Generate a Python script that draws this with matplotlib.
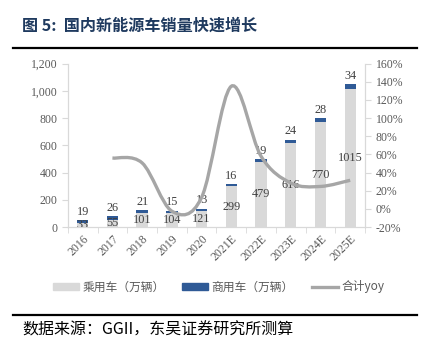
import matplotlib
matplotlib.use("Agg")
import matplotlib.pyplot as plt
import numpy as np
from matplotlib.path import Path
from matplotlib.patches import PathPatch, Patch
from matplotlib.lines import Line2D
from matplotlib.ticker import FuncFormatter, MultipleLocator

years = ["2016", "2017", "2018", "2019", "2020", "2021E", "2022E", "2023E", "2024E", "2025E"]
passenger = [33, 55, 101, 104, 121, 299, 479, 616, 770, 1015]
commercial = [19, 26, 21, 15, 13, 16, 19, 24, 28, 34]
yoy = [None, 0.56, 0.506, -0.025, 0.126, 1.35, 0.58, 0.285, 0.247, 0.315]

CJK = ["Noto Sans CJK SC", "DejaVu Sans"]
SERIF = ["Liberation Serif", "DejaVu Serif"]
GRAY_TXT = "#595959"
BAR_GRAY = "#D9D9D9"
BAR_BLUE = "#2F5A96"
LINE_GRAY = "#A6A6A6"


def smooth_path(xs, ys, t=1 / 6):
    # excel style smoothed line: cubic bezier through every point
    verts = [(xs[0], ys[0])]
    codes = [Path.MOVETO]
    n = len(xs)
    for i in range(n - 1):
        x0, y0 = (xs[i - 1], ys[i - 1]) if i > 0 else (xs[i], ys[i])
        x1, y1 = xs[i], ys[i]
        x2, y2 = xs[i + 1], ys[i + 1]
        x3, y3 = (xs[i + 2], ys[i + 2]) if i + 2 < n else (x2, y2)
        c1 = (x1 + (x2 - x0) * t, y1 + (y2 - y0) * t)
        c2 = (x2 - (x3 - x1) * t, y2 - (y3 - y1) * t)
        verts += [c1, c2, (x2, y2)]
        codes += [Path.CURVE4] * 3
    return Path(verts, codes)


fig = plt.figure(figsize=(4.24, 3.61), dpi=100)
ax = fig.add_axes([0.160, 0.371, 0.701, 0.453])
ax2 = ax.twinx()

x = np.arange(len(years))
w = 0.38
ax.bar(x, passenger, w, color=BAR_GRAY, zorder=2)
ax.bar(x, commercial, w, bottom=passenger, color=BAR_BLUE, zorder=2)

for i in range(len(years)):
    ax.text(x[i], passenger[i] / 2, str(passenger[i]), ha="center", va="center",
            fontsize=8.8, family=SERIF, color="#404040", zorder=5)
    ax.text(x[i], passenger[i] + commercial[i] + 18, str(commercial[i]), ha="center",
            va="bottom", fontsize=8.8, family=SERIF, color="#404040", zorder=5)

ax.set_xlim(-0.5, len(years) - 0.5)
ax.set_ylim(0, 1200)
ax.yaxis.set_major_locator(MultipleLocator(200))
ax.yaxis.set_major_formatter(FuncFormatter(lambda v, p: f"{int(v):,}"))
ax2.set_ylim(-0.2, 1.6)
ax2.yaxis.set_major_locator(MultipleLocator(0.2))
ax2.yaxis.set_major_formatter(FuncFormatter(lambda v, p: f"{round(v * 100):d}%"))

xs = [x[i] for i in range(len(years)) if yoy[i] is not None]
ys = [v for v in yoy if v is not None]
ax2.add_patch(PathPatch(smooth_path(xs, ys), facecolor="none", edgecolor=LINE_GRAY,
                        lw=2.4, capstyle="butt", zorder=3))
ax2.set_zorder(ax.get_zorder() + 1)
ax.patch.set_visible(False)

ax.set_xticks(x)
ax.set_xticklabels(years, rotation=45, ha="right", rotation_mode="anchor")
ax.set_xticks(np.arange(-0.5, len(years)), minor=True)
ax.tick_params(axis="x", which="major", length=0, pad=4)
ax.tick_params(axis="x", which="minor", length=4, color="#D9D9D9")

for a in (ax, ax2):
    for s in a.spines.values():
        s.set_color("#D9D9D9")
    a.spines["top"].set_visible(False)
    a.tick_params(axis="y", length=4, color="#D9D9D9", labelsize=8.5, labelcolor=GRAY_TXT)
    for lab in a.get_yticklabels():
        lab.set_family(SERIF)
for lab in ax.get_xticklabels():
    lab.set_family(SERIF)
    lab.set_fontsize(8.5)
    lab.set_color(GRAY_TXT)

handles = [Patch(color=BAR_GRAY), Patch(color=BAR_BLUE), Line2D([], [], color=LINE_GRAY, lw=2.4)]
labels = ["乘用车（万辆）", "商用车（万辆）", "合计yoy"]
fig.legend(handles, labels, loc="center", bbox_to_anchor=(0.515, 0.205), ncol=3, frameon=False,
           prop={"family": CJK, "size": 8.5}, labelcolor=GRAY_TXT, handlelength=2.2,
           handleheight=0.6, columnspacing=1.5, handletextpad=0.3)

fig.text(0.052, 0.930, "图 5:  国内新能源车销量快速增长", family=CJK, fontsize=11.6,
         fontweight="bold", color="#1F3A5F", va="center")
fig.add_artist(Line2D([0.031, 0.984], [0.866, 0.866], color="black", lw=1.6))
fig.add_artist(Line2D([0.031, 0.984], [0.128, 0.128], color="black", lw=1.6))
fig.text(0.052, 0.085, "数据来源：GGII，东吴证券研究所测算", family=CJK + ["Liberation Serif"],
         fontsize=11.5, color="black", va="center")

fig.savefig("out.png", dpi=100)
